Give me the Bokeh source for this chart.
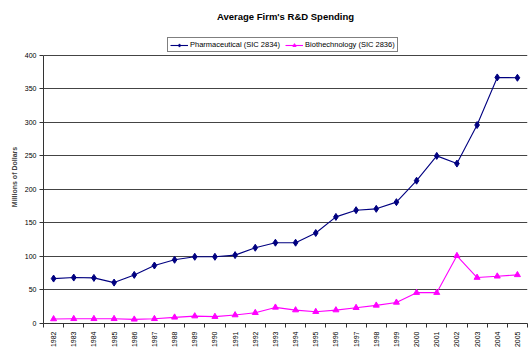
import math
from bokeh.plotting import figure
from bokeh.models import FixedTicker, Legend, LegendItem
from bokeh.embed import file_html
from bokeh.resources import INLINE

years = list(range(1982, 2006))
pharma = [67, 68.5, 68, 61, 72.5, 86.5, 95, 99.5, 99.5, 102, 113, 120.5,
          120.5, 135, 159, 169, 171, 181, 213, 250, 238.5, 296, 367, 366.5]
biotech = [6.7, 7, 7, 7, 6.2, 7, 9.2, 11, 10.2, 12.6, 16, 24,
           20, 17.6, 20, 23.5, 27, 31.4, 46, 46, 101, 68.5, 70.4, 72.5]
y_ticks = list(range(0, 401, 50))

FONT = "Liberation Sans"

p = figure(width=529, height=350, output_backend="svg", toolbar_location=None,
           x_range=(1981.5, 2005.5), y_range=(0, 437),
           min_border_left=43, min_border_right=2, min_border_top=30, min_border_bottom=25)
p.background_fill_color = "white"
p.border_fill_color = "white"
p.outline_line_color = None

p.title.text = "Average Firm's R&D Spending"
p.title.align = "center"
p.title.text_font = FONT
p.title.text_font_size = "9.5px"
p.title.text_font_style = "bold"
p.title.text_color = "black"
p.title.offset = -19
p.title.standoff = 17

l1 = p.line(years, pharma, line_color="#000080", line_width=1.1)
s1 = p.scatter(years, pharma, marker="diamond", size=7, fill_color="#000080", line_color="#000080")
l2 = p.line(years, biotech, line_color="#FF00FF", line_width=1.1)
s2 = p.scatter(years, biotech, marker="triangle", size=6, fill_color="#FF00FF", line_color="#FF00FF")

legend = Legend(items=[LegendItem(label="Pharmaceutical (SIC 2834)", renderers=[l1, s1]),
                       LegendItem(label="Biothechnology (SIC 2836)", renderers=[l2, s2])],
                orientation="horizontal", location=(124, 271),
                label_text_font=FONT, label_text_font_size="7.5px", label_text_color="black",
                glyph_width=18, glyph_height=8, label_standoff=2, spacing=5,
                padding=2, margin=0, border_line_color="black", border_line_width=1,
                label_height=8)
p.add_layout(legend, "center")

# x axis
p.xaxis.ticker = FixedTicker(ticks=years, minor_ticks=[y - 0.5 for y in years] + [years[-1] + 0.5])
p.xaxis.major_label_overrides = {y: str(y) for y in years}
p.xaxis.major_label_orientation = math.pi / 2
p.xaxis.major_tick_out = 0
p.xaxis.major_tick_in = 0
p.xaxis.minor_tick_out = 4
p.xaxis.minor_tick_in = 0
p.xaxis.minor_tick_line_color = "#333333"
p.xaxis.axis_line_color = "#333333"
p.xaxis.major_label_text_font = FONT
p.xaxis.major_label_text_font_size = "7px"
p.xaxis.major_label_text_color = "black"
p.xaxis.major_label_standoff = 4

# y axis
p.yaxis.ticker = FixedTicker(ticks=y_ticks)
p.yaxis.bounds = (0, 400)
p.yaxis.minor_tick_line_color = None
p.yaxis.major_tick_out = 4
p.yaxis.major_tick_in = 0
p.yaxis.axis_line_color = "#333333"
p.yaxis.major_tick_line_color = "#333333"
p.yaxis.major_label_text_font = FONT
p.yaxis.major_label_text_font_size = "7px"
p.yaxis.major_label_text_color = "black"
p.yaxis.major_label_standoff = 3
p.yaxis.axis_label = "Millions of Dollars"
p.yaxis.axis_label_text_font = FONT
p.yaxis.axis_label_text_font_size = "7px"
p.yaxis.axis_label_text_font_style = "bold"
p.yaxis.axis_label_standoff = 4

p.xgrid.grid_line_color = None
p.ygrid.grid_line_color = "#444444"
p.ygrid.grid_line_width = 1

open("out.html", "w").write(file_html(p, INLINE))
